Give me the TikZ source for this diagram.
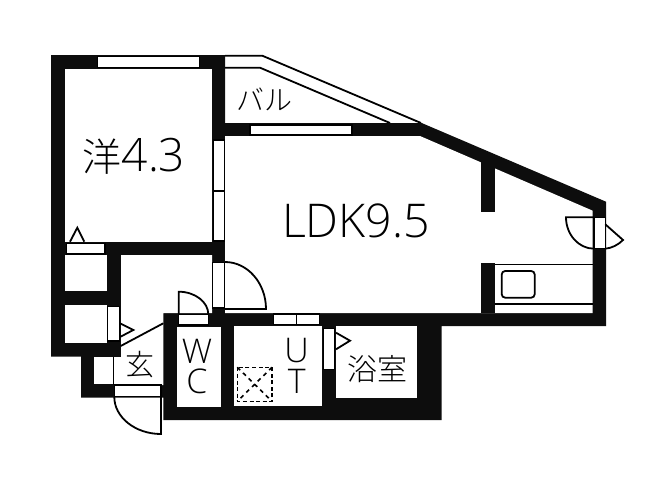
\documentclass[tikz,border=0pt]{standalone}
\usepackage{fontspec}
\setmainfont{Open Sans Light}
\newfontfamily\cjk{Noto Sans CJK JP Light}
\newcommand{\fs}[1]{\fontsize{#1}{#1}\selectfont}
\tikzset{
  x=1pt,y=-1pt,
  wall/.style={fill=black!95,draw=none},
  room/.style={fill=white,draw=none},
  sash/.style={fill=white,draw=black,line width=1.3pt},
  thin line/.style={draw=black,line width=1.8pt,line join=miter},
  label/.style={inner sep=0pt,text=black}
}
\begin{document}
\begin{tikzpicture}
\useasboundingbox (0,0) rectangle (664,485);
% balcony
\draw[thin line] (225,55.7) -- (262.3,55.7) -- (421,123);
\draw[thin line] (225,67.7) -- (260,67.7) -- (390,123);
% walls
\fill[wall] (51,55) -- (225,55) -- (225,123) -- (421.7,123) -- (606,201.7) -- (606,326) -- (441.7,326) -- (441.7,420) -- (163.3,420) -- (163.3,397.7) -- (81,397.7) -- (81,356.7) -- (51,356.7) -- cycle;
% rooms
\fill[room] (65.3,68.7) rectangle (211.7,241.7);
\fill[room] (225,136) -- (420,136) -- (592.7,210.7) -- (592.7,313) -- (225,313) -- cycle;
\fill[room] (121,255) -- (212,255) -- (212,313) -- (163.3,313) -- (163.3,385) -- (121,385) -- cycle;
\fill[room] (65,255) rectangle (106.7,291);
\fill[room] (65,305) rectangle (106.7,342.7);
\fill[room] (94.3,356.7) rectangle (113.3,384.3);
\fill[room] (113.3,356.7) rectangle (121,385);
\fill[room] (177,326.7) rectangle (221,406.7);
\fill[room] (234.3,326) rectangle (322,406);
\fill[room] (336,326) rectangle (417.3,398.3);
% stub walls
\fill[wall] (480.7,160) rectangle (494.7,212.3);
\fill[wall] (480.7,262.7) rectangle (494.7,313);
% windows
\draw[sash] (97.3,56.7) rectangle (199.3,67.3);
\draw[sash] (250,125) rectangle (352,135);
\draw[sash] (213.3,140) rectangle (224.4,241);
\draw[thin line,line width=1.3pt] (213.3,191) -- (224.4,191);
\draw[sash] (66.7,243.3) rectangle (105,254);
\draw[sash] (107.7,306.7) rectangle (119.3,341);
\draw[sash] (114.3,385) rectangle (161,396.7);
\draw[sash] (178.7,314.3) rectangle (208.3,325);
\draw[sash] (212.6,262.3) rectangle (224.6,308);
\draw[sash] (273.3,314) rectangle (319.3,324.7);
\draw[thin line,line width=1.3pt] (296.7,314) -- (296.7,324.7);
\draw[sash] (323.3,328.3) rectangle (334.3,369.3);
\draw[sash] (594,217.3) rectangle (605.3,248.7);
% fine lines
\draw[thin line] (113.5,356.7) -- (113.5,385);
\draw[thin line] (120.7,346) -- (163.3,323.3);
% door marks
\draw[thin line] (70,241.7) -- (77.3,227.7) -- (84.3,241.7);
\draw[thin line] (120,323.3) -- (133.3,330) -- (120,337);
\draw[thin line] (336,332.7) -- (350,340.7) -- (336,349.3);
% door leaves
\draw[thin line] (225,262) .. controls (247.5,262) and (266,283) .. (266,309) -- (225,309);
\draw[thin line] (178.7,314.3) -- (178.7,291.7) .. controls (195,291.7) and (208.3,302) .. (208.3,314.3);
\draw[thin line] (114.3,397) .. controls (114.3,417) and (135,434) .. (161,434) -- (161,396.7);
\draw[thin line] (594,217.3) -- (566,217.3) .. controls (566,234.5) and (578.6,248.7) .. (594,248.7);
\draw[thin line] (605.3,224.3) -- (623,240) .. controls (618,245) and (612,248) .. (605.3,248.7);
% kitchen
\draw[thin line,line width=1.5pt] (494.7,264.3) -- (592.7,264.3);
\draw[thin line,line width=1.5pt] (494.7,304) -- (592.7,304);
\draw[thin line,rounded corners=3.5pt] (501.7,271) rectangle (534.7,297.7);
% dashed shaft
\draw[black,line width=1.6pt,dash pattern=on 4pt off 2.6pt] (237.3,367.3) rectangle (272,401.3);
\draw[black,line width=1.6pt,dash pattern=on 4pt off 4pt] (237.3,367.3) -- (272,401.3);
\draw[black,line width=1.6pt,dash pattern=on 4pt off 4pt] (272,367.3) -- (237.3,401.3);
% labels
\node[label] (western) at (134,156) {\fs{46}{\cjk\fs{39}洋}4.3};
\node[label] (ldk) at (356,221) {\fs{46.5}LDK9.5};
\node[label] (bal) at (264,99) {\cjk\fs{28}バル};
\node[label] (entry) at (140,365) {\cjk\fs{29}玄};
\node[label] (w) at (197,351) {\fs{34}W};
\node[label] (c) at (197,381) {\fs{34}C};
\node[label] (u) at (296.7,351) {\fs{34}U};
\node[label] (t) at (296.7,381) {\fs{34}T};
\node[label] (bath) at (377.5,369) {\cjk\fs{30}浴室};
\end{tikzpicture}
\end{document}
